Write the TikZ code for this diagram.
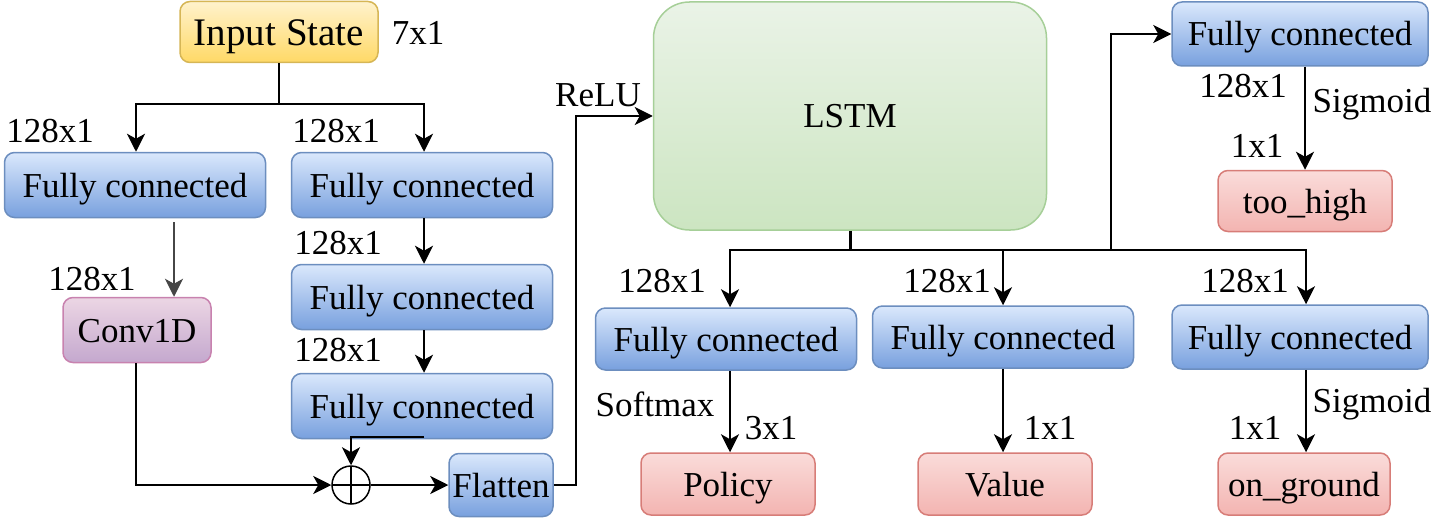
\documentclass[tikz,border=0pt]{standalone}
\usepackage{fontspec}
\setmainfont{Liberation Serif}
\usetikzlibrary{positioning,calc,arrows.meta}
\definecolor{fcTop}{RGB}{218,232,252}
\definecolor{fcBot}{RGB}{120,160,222}
\definecolor{fcEdge}{RGB}{108,142,191}
\definecolor{inTop}{RGB}{255,242,204}
\definecolor{inBot}{RGB}{255,217,102}
\definecolor{inEdge}{RGB}{214,182,86}
\definecolor{outTop}{RGB}{250,220,218}
\definecolor{outBot}{RGB}{243,180,177}
\definecolor{outEdge}{RGB}{215,125,120}
\definecolor{convTop}{RGB}{236,214,228}
\definecolor{convBot}{RGB}{196,168,206}
\definecolor{convEdge}{RGB}{200,130,175}
\definecolor{lstmTop}{RGB}{234,243,231}
\definecolor{lstmBot}{RGB}{204,229,193}
\definecolor{lstmEdge}{RGB}{166,207,152}
\definecolor{wireGrey}{RGB}{70,70,70}

\begin{document}
\begin{tikzpicture}[
  x=1pt,y=-1pt,
  font=\fontsize{35}{40}\selectfont,
  box/.style={rounded corners=10pt,align=center,inner sep=2pt,line width=1.5pt,
              text height=24pt,text depth=0pt},
  fc/.style={box,draw=fcEdge,top color=fcTop,bottom color=fcBot,
             minimum width=261pt,minimum height=65pt},
  outb/.style={box,draw=outEdge,top color=outTop,bottom color=outBot,
               minimum width=174pt,minimum height=62pt},
  lbl/.style={inner sep=0pt},
  wire/.style={line width=2pt},
  link/.style={-{Stealth[length=18pt,width=18pt,inset=5pt]},line width=2pt}
]
\useasboundingbox (0,0) rectangle (1438,519);

% ==========  Feature extractor  ==========
\node[box,draw=inEdge,top color=inTop,bottom color=inBot,
      font=\fontsize{39}{44}\selectfont,text height=27pt,
      minimum width=198pt,minimum height=61pt] (inp) at (279,32) {Input State};
\node[lbl] (inpsz) at (418,33) {7x1};

\node[fc] (fcl)  at (135,185) {Fully connected};
\node[fc] (fcr1) at (422,185) {Fully connected};
\node[fc] (fcr2) at (422,297) {Fully connected};
\node[fc] (fcr3) at (422,406) {Fully connected};

\node[box,draw=convEdge,top color=convTop,bottom color=convBot,
      minimum width=148pt,minimum height=65pt] (conv) at (137,330) {Conv1D};

\node[circle,draw,line width=1.5pt,minimum size=38pt,inner sep=0pt,
      path picture={\draw[line width=1.5pt]
        (path picture bounding box.north) -- (path picture bounding box.south)
        (path picture bounding box.west) -- (path picture bounding box.east);}]
  (sum) at (351,485) {};

\node[box,draw=fcEdge,top color=fcTop,bottom color=fcBot,
      minimum width=104pt,minimum height=63pt] (flat) at (501,485) {Flatten};

\node[lbl] (szl)  at (50,131)  {128x1};
\node[lbl] (szr1) at (336,131) {128x1};
\node[lbl] (szr2) at (338,243) {128x1};
\node[lbl] (szr3) at (338,350) {128x1};
\node[lbl] (szc)  at (92,279)  {128x1};

% ==========  Recurrent core  ==========
\node[box,rounded corners=36pt,draw=lstmEdge,top color=lstmTop,bottom color=lstmBot,
      minimum width=393pt,minimum height=228pt] (lstm) at (850,116) {LSTM};
\node[lbl] (relu) at (598,95) {ReLU};

% ==========  Heads  ==========
\node[fc,minimum width=256pt,minimum height=64pt] (fch) at (1300,34) {Fully connected};
\node[outb,minimum height=61pt] (high) at (1305,201) {too\_high};

\node[fc,minimum height=62pt] (fcp) at (726,339) {Fully connected};
\node[fc,minimum height=62pt] (fcv) at (1003,337) {Fully connected};
\node[fc,minimum width=256pt,minimum height=64pt] (fcg) at (1300,337) {Fully connected};

\node[outb] (pol) at (728,484)  {Policy};
\node[outb] (val) at (1005,484) {Value};
\node[outb,minimum width=172pt] (gnd) at (1304,484) {on\_ground};

\node[lbl] (szh)   at (1243,86)  {128x1};
\node[lbl] (sigh)  at (1372,104) {Sigmoid};
\node[lbl] (oneh)  at (1257,146) {1x1};
\node[lbl] (szp)   at (662,281)  {128x1};
\node[lbl] (szv)   at (947,281)  {128x1};
\node[lbl] (szg)   at (1245,281) {128x1};
\node[lbl] (smax)  at (655,404)  {Softmax};
\node[lbl] (threep) at (771,428) {3x1};
\node[lbl] (onev)  at (1050,428) {1x1};
\node[lbl] (sigg)  at (1372,404) {Sigmoid};
\node[lbl] (oneg)  at (1255,428) {1x1};

% ==========  Connectors  ==========
\coordinate (split) at (279,104);
\draw[wire] (inp.south) -- (split);
\draw[link] (split) -| ([xshift=1pt]fcl.north);
\draw[link] (split) -| ([xshift=2pt]fcr1.north);

\draw[link,draw=wireGrey,fill=wireGrey,line width=1.5pt]
  ([xshift=39pt,yshift=-4pt]fcl.south) -- ([xshift=37pt]conv.north);
\draw[link] ([xshift=2pt]fcr1.south) -- ([xshift=2pt]fcr2.north);
\draw[link] ([xshift=2pt]fcr2.south) -- ([xshift=2pt]fcr3.north);

\draw[link] ([xshift=2pt,yshift=2pt]fcr3.south) -| (sum.north);
\draw[link] ([xshift=-1pt]conv.south) |- (sum.west);
\draw[link] (sum.east) -- (flat.west);
\draw[link] (flat.east) -- ++(22,0) |- (lstm.west);

% LSTM fan-out
\coordinate (hub) at (850,250);
\draw[line width=3pt] (lstm.south) -- (hub);
\draw[link] (hub) -| ([xshift=4pt]fcp.north);
\draw[link] (hub) -| (fcv.north);
\draw[link] (hub) -| ([xshift=6pt]fcg.north);
\draw[link] (hub) -| ([xshift=-60pt]fch.west) -- (fch.west);

\draw[link] (fch.south -| high.north) -- (high.north);
\draw[link] ([xshift=4pt]fcp.south) -- ([xshift=2pt]pol.north);
\draw[link] (fcv.south) -- ([xshift=-2pt]val.north);
\draw[link] ([xshift=6pt]fcg.south) -- ([xshift=2pt]gnd.north);

\end{tikzpicture}
\end{document}
